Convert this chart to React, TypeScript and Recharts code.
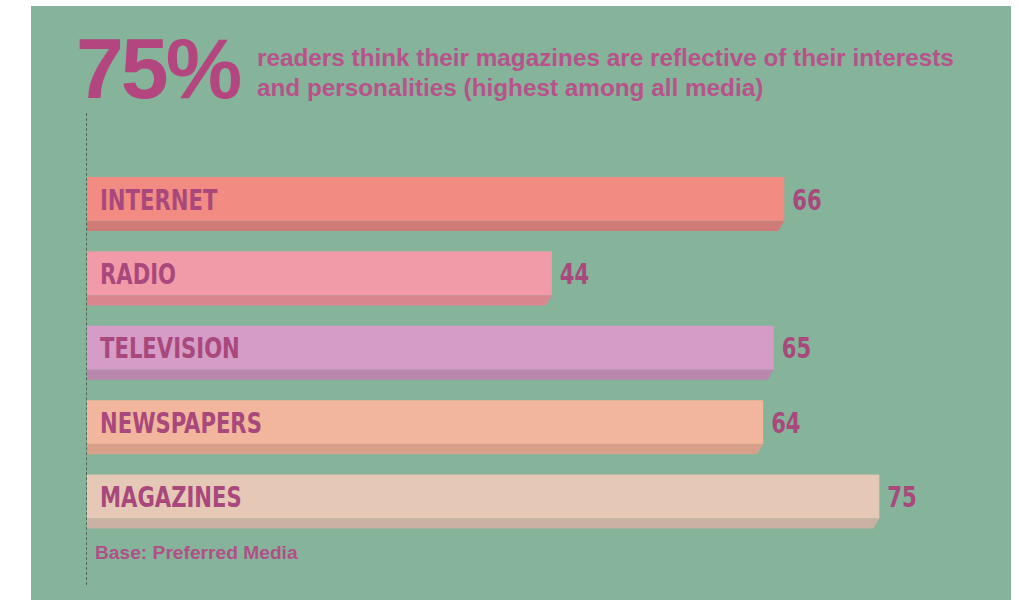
import React from 'react';
import { BarChart, Bar, XAxis, YAxis, LabelList } from 'recharts';

const categories = ['INTERNET', 'RADIO', 'TELEVISION', 'NEWSPAPERS', 'MAGAZINES'];
const values = [66, 44, 65, 64, 75];
const headline = '75%';
const subtitleLines = [
  'readers think their magazines are reflective of their interests',
  'and personalities (highest among all media)',
];
const footnote = 'Base: Preferred Media';

const mainColors = ['#f28b82', '#f29ba8', '#d49cc6', '#f1b69b', '#e5c8b6'];
const shadowColors = ['#cf7b78', '#d9868f', '#b986ad', '#d6a08b', '#c9b2a3'];

const data = categories.map((name, i) => ({ name, value: values[i] }));

const BG = '#86b49a';
const TEXT = '#b3467f';
const LABEL = '#a8487c';
const NARROW = '"Liberation Sans Narrow", "DejaVu Sans Condensed", "Liberation Sans", sans-serif';

const MAIN_FRAC = 0.81;
const SQUEEZE = 0.84;

const BarShape = (props: any) => {
  const { x, y, width, height, payload } = props;
  const i = categories.indexOf(payload.name);
  const mh = height * MAIN_FRAC;
  const ym = y + mh;
  const yb = y + height;
  return (
    <g>
      <polygon
        points={`${x},${ym} ${x + width},${ym} ${x + width - 6},${yb} ${x},${yb}`}
        fill={shadowColors[i]}
      />
      <rect x={x} y={y} width={width} height={mh} fill={mainColors[i]} />
    </g>
  );
};

const NarrowText = ({ tx, ty, children }: any) => (
  <text
    transform={`translate(${tx},${ty}) scale(${SQUEEZE},1)`}
    x={0}
    y={0}
    dominantBaseline="central"
    fill={LABEL}
    fontFamily={NARROW}
    fontWeight="bold"
    fontSize={28}
  >
    {children}
  </text>
);

const NameLabel = (props: any) => {
  const { x, y, height, value } = props;
  return <NarrowText tx={x + 13} ty={y + (height * MAIN_FRAC) / 2 + 1}>{value}</NarrowText>;
};

const ValueLabel = (props: any) => {
  const { x, y, width, height, value } = props;
  return <NarrowText tx={x + width + 8} ty={y + (height * MAIN_FRAC) / 2 + 1}>{value}</NarrowText>;
};

export default function App() {
  return (
    <div style={{ position: 'absolute', left: 0, top: 0, width: 1019, height: 600, background: '#ffffff', overflow: 'hidden' }}>
      <div style={{ position: 'absolute', left: 31, top: 6, width: 980, height: 594, background: BG }} />
      <div
        style={{
          position: 'absolute',
          left: 86,
          top: 113,
          height: 472,
          width: 0,
          borderLeft: '1.5px dashed #56655a',
        }}
      />
      <div
        style={{
          position: 'absolute',
          left: 76,
          top: 18,
          fontFamily: '"Liberation Sans", Arial, sans-serif',
          fontWeight: 'bold',
          fontSize: 86,
          letterSpacing: -3,
          color: TEXT,
          lineHeight: '100px',
        }}
      >
        {headline}
      </div>
      <div
        style={{
          position: 'absolute',
          left: 257,
          top: 43,
          fontFamily: '"Liberation Sans", Arial, sans-serif',
          fontWeight: 'bold',
          fontSize: 24.3,
          color: '#b7528b',
          lineHeight: '30px',
          whiteSpace: 'nowrap',
        }}
      >
        {subtitleLines.map((l) => (
          <div key={l}>{l}</div>
        ))}
      </div>
      <div
        style={{
          position: 'absolute',
          left: 95,
          top: 542,
          fontFamily: '"Liberation Sans", Arial, sans-serif',
          fontWeight: 'bold',
          fontSize: 19.2,
          color: '#b05088',
          whiteSpace: 'nowrap',
        }}
      >
        {footnote}
      </div>
      <div style={{ position: 'absolute', left: 0, top: 0 }}>
        <BarChart
          width={1019}
          height={600}
          data={data}
          layout="vertical"
          margin={{ top: 167, right: 34, bottom: 61, left: 87 }}
        >
          <XAxis type="number" domain={[0, 85]} hide />
          <YAxis type="category" dataKey="name" hide />
          <Bar dataKey="value" barSize={54} shape={<BarShape />} isAnimationActive={false}>
            <LabelList dataKey="name" content={<NameLabel />} />
            <LabelList dataKey="value" content={<ValueLabel />} />
          </Bar>
        </BarChart>
      </div>
    </div>
  );
}
